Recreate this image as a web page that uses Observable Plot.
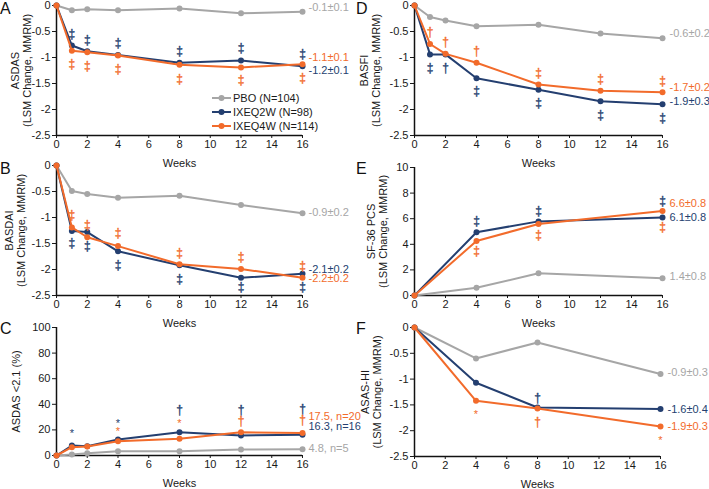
<!DOCTYPE html>
<html><head><meta charset="utf-8">
<script src="https://cdn.jsdelivr.net/npm/d3@7"></script>
<script src="https://cdn.jsdelivr.net/npm/@observablehq/plot@0.6"></script>
<style>
html,body{margin:0;padding:0;background:#fff;}
#wrap{position:relative;width:709px;height:489px;overflow:hidden;font-family:"Liberation Sans",Arial,sans-serif;color:#1a1a1a;}
.panel{position:absolute;}
.panel svg{overflow:visible;}
.letter{position:absolute;font-size:16px;line-height:16px;color:#111;}
#legend{position:absolute;left:212px;top:91px;font-size:11px;line-height:14px;}
#legend .row{display:flex;align-items:center;height:14px;white-space:nowrap;}
#legend svg{margin-right:2px;}
</style>
</head><body>
<div id="wrap"></div>
<script>
// ---------- shared ----------
const seriesNames = ["PBO", "IXEQ2W", "IXEQ4W"];
const legendLabels = ["PBO (N=104)", "IXEQ2W (N=98)", "IXEQ4W (N=114)"];
const seriesColors = ["#a6a6a6", "#243f70", "#f26b2b"];
const weekTicks = [0, 2, 4, 6, 8, 10, 12, 14, 16];
const weeksLong = [0, 1, 2, 4, 8, 12, 16];
const weeksShort = [0, 4, 8, 16];
const lsmTicks = [0, -0.5, -1, -1.5, -2, -2.5];

// ---------- A: ASDAS ----------
const asdasPBO = [0, -0.09, -0.07, -0.09, -0.06, -0.15, -0.12];
const asdasQ2W = [0, -0.77, -0.88, -0.95, -1.10, -1.06, -1.17];
const asdasQ4W = [0, -0.87, -0.90, -0.96, -1.14, -1.19, -1.13];
const asdasSigQ2W = ["", "‡", "‡", "‡", "‡", "‡", "‡"];
const asdasSigQ2WAt = [null, -0.55, -0.66, -0.73, -0.87, -0.82, -0.93];
const asdasSigQ4W = ["", "‡", "‡", "‡", "‡", "‡", "‡"];
const asdasSigQ4WAt = [null, -1.12, -1.17, -1.22, -1.41, -1.44, -1.40];
const asdasEnd = ["-0.1±0.1", "-1.2±0.1", "-1.1±0.1"];
const asdasEndAt = [-0.04, -1.25, -1.0];

// ---------- B: BASDAI ----------
const basdaiPBO = [0, -0.49, -0.55, -0.62, -0.58, -0.76, -0.92];
const basdaiQ2W = [0, -1.26, -1.28, -1.65, -1.92, -2.16, -2.08];
const basdaiQ4W = [0, -1.19, -1.38, -1.55, -1.90, -1.99, -2.16];
const basdaiSigQ2W = ["", "‡", "‡", "‡", "‡", "‡", "‡"];
const basdaiSigQ2WAt = [null, -1.49, -1.56, -1.92, -2.18, -2.34, -2.34];
const basdaiSigQ4W = ["", "‡", "‡", "‡", "‡", "‡", "‡"];
const basdaiSigQ4WAt = [null, -0.96, -1.15, -1.31, -1.68, -1.76, -1.94];
const basdaiEnd = ["-0.9±0.2", "-2.1±0.2", "-2.2±0.2"];
const basdaiEndAt = [-0.91, -2.0, -2.18];

// ---------- C: ASDAS <2.1 (%) ----------
const lowPBO = [0, 0.8, 1.8, 3.4, 3.4, 4.7, 4.8];
const lowQ2W = [0, 7.8, 7.3, 12.5, 18.2, 15.6, 16.3];
const lowQ4W = [0, 6.5, 7.0, 11.2, 13.0, 18.2, 17.5];
const lowSigQ2W = ["", "*", "", "*", "†", "†", "†"];
const lowSigQ2WAt = [null, 19.5, null, 27.3, 35.1, 35.6, 36.4];
const lowSigQ4W = ["", "", "", "*", "*", "†", "†"];
const lowSigQ4WAt = [null, null, null, 20.8, 27.3, 26.5, 27.3];
const lowEnd = ["4.8, n=5", "16.3, n=16", "17.5, n=20"];
const lowEndAt = [5.2, 22.6, 30.4];
const pctTicks = [0, 20, 40, 60, 80, 100];

// ---------- D: BASFI ----------
const basfiPBO = [0, -0.22, -0.29, -0.40, -0.37, -0.54, -0.63];
const basfiQ2W = [0, -0.94, -0.94, -1.40, -1.62, -1.84, -1.90];
const basfiQ4W = [0, -0.74, -0.93, -1.10, -1.52, -1.64, -1.67];
const basfiSigQ2W = ["", "‡", "†", "‡", "‡", "‡", "‡"];
const basfiSigQ2WAt = [null, -1.21, -1.21, -1.65, -1.87, -2.10, -2.17];
const basfiSigQ4W = ["", "†", "†", "†", "‡", "‡", "‡"];
const basfiSigQ4WAt = [null, -0.51, -0.70, -0.88, -1.30, -1.42, -1.46];
const basfiEnd = ["-0.6±0.2", "-1.9±0.3", "-1.7±0.2"];
const basfiEndAt = [-0.545, -1.84, -1.58];

// ---------- E: SF-36 PCS ----------
const pcsPBO = [0, 0.6, 1.74, 1.35];
const pcsQ2W = [0, 4.94, 5.79, 6.1];
const pcsQ4W = [0, 4.26, 5.58, 6.6];
const pcsSigQ2W = ["", "‡", "‡", "‡"];
const pcsSigQ2WAt = [null, 5.8, 6.62, 7.35];
const pcsSigQ4W = ["", "‡", "‡", "‡"];
const pcsSigQ4WAt = [null, 3.45, 4.75, 5.32];
const pcsEnd = ["1.4±0.8", "6.1±0.8", "6.6±0.8"];
const pcsEndAt = [1.48, 6.1, 7.2];
const pcsTicks = [0, 2, 4, 6, 8, 10];

// ---------- F: ASAS-HI ----------
const hiPBO = [0, -0.60, -0.29, -0.90];
const hiQ2W = [0, -1.07, -1.55, -1.58];
const hiQ4W = [0, -1.42, -1.57, -1.92];
const hiSigQ2W = ["", "", "†", ""];
const hiSigQ2WAt = [null, null, -1.36, null];
const hiSigQ4W = ["", "*", "†", "*"];
const hiSigQ4WAt = [null, -1.62, -1.83, -2.13];
const hiEnd = ["-0.9±0.3", "-1.6±0.4", "-1.9±0.3"];
const hiEndAt = [-0.87, -1.58, -1.92];

// ---------- builder ----------
const color = {domain: seriesNames, range: seriesColors};

function panel(cfg) {
  const rows = [];
  cfg.series.forEach((vals, i) => cfg.weeks.forEach((w, j) =>
    rows.push({week: w, value: vals[j], s: seriesNames[i]})));
  const sigRows = [];
  cfg.sigs.forEach(([sym, at, si]) => cfg.weeks.forEach((w, j) => {
    if (sym[j]) sigRows.push({week: w, at: at[j], t: sym[j], s: seriesNames[si]});
  }));
  const lastWeek = cfg.weeks[cfg.weeks.length - 1];
  const endRows = cfg.end.map((t, i) => ({week: lastWeek, at: cfg.endAt[i], t, s: seriesNames[i]}));
  const yMin = d3.min(cfg.yDomain);
  const marks = [
    Plot.axisX({ticks: weekTicks, tickSize: 3, tickPadding: 2, label: null, tickFormat: d => String(d), fontSize: 11}),
    Plot.axisY({ticks: cfg.yTicks, tickSize: 4, tickPadding: 2, label: null, tickFormat: d => String(d), fontSize: 11}),
    Plot.ruleX([0], {stroke: "#111", strokeWidth: 1.5}),
    Plot.ruleY([yMin], {stroke: "#111", strokeWidth: 1.5}),
  ];
  seriesNames.forEach(name => {
    const r = rows.filter(d => d.s === name);
    marks.push(Plot.line(r, {x: "week", y: "value", stroke: "s", strokeWidth: 2}));
    marks.push(Plot.dot(r, {x: "week", y: "value", fill: "s", r: 3}));
  });
  marks.push(
    Plot.text(sigRows.filter(d => d.t !== "*"), {x: "week", y: "at", text: "t", fill: "s", stroke: "s", strokeWidth: 0.35, fontSize: 12, lineAnchor: "middle"}),
    Plot.text(sigRows.filter(d => d.t === "*"), {x: "week", y: "at", text: "t", fill: "s", fontSize: 11, lineAnchor: "middle", dy: 3}),
    Plot.text(endRows, {x: "week", y: "at", text: "t", fill: "s", fontSize: 11, textAnchor: "start", dx: cfg.endDx, lineAnchor: "middle"}),
    Plot.text([cfg.yLabel], {frameAnchor: "left", textAnchor: "middle", rotate: -90, dx: cfg.labelDx, fontSize: 11, lineAnchor: "middle", lineHeight: 1.05, fill: "#1a1a1a"}),
    Plot.text(["Weeks"], {frameAnchor: "bottom", textAnchor: "middle", dy: cfg.weeksDy, fontSize: 11, lineAnchor: "middle", fill: "#1a1a1a"})
  );
  const svg = Plot.plot({
    width: cfg.w, height: cfg.h,
    marginLeft: cfg.m[0], marginRight: cfg.m[1], marginTop: cfg.m[2], marginBottom: cfg.m[3],
    x: {domain: [0, 16]},
    y: {domain: cfg.yDomain},
    color,
    style: {background: "transparent", fontFamily: "Liberation Sans, Arial, sans-serif", fontSize: "11px", color: "#1a1a1a", overflow: "visible"},
    marks
  });
  const div = document.createElement("div");
  div.className = "panel";
  div.style.left = cfg.left + "px";
  div.style.top = cfg.top + "px";
  div.appendChild(svg);
  document.getElementById("wrap").appendChild(div);
  const letter = document.createElement("div");
  letter.className = "letter";
  letter.textContent = cfg.letter;
  letter.style.left = cfg.letterPos[0] + "px";
  letter.style.top = cfg.letterPos[1] + "px";
  document.getElementById("wrap").appendChild(letter);
}

panel({letter: "A", letterPos: [0, 1], left: 0, top: 0, w: 354, h: 170, m: [56, 52, 5, 35],
  weeks: weeksLong, series: [asdasPBO, asdasQ2W, asdasQ4W],
  sigs: [[asdasSigQ2W, asdasSigQ2WAt, 1], [asdasSigQ4W, asdasSigQ4WAt, 2]],
  end: asdasEnd, endAt: asdasEndAt, endDx: 6,
  yDomain: [-2.5, 0], yTicks: lsmTicks, yLabel: "ASDAS\n(LSM Change, MMRM)", labelDx: -35, weeksDy: 28});

panel({letter: "B", letterPos: [0, 161], left: 0, top: 160, w: 354, h: 170, m: [56, 52, 5, 35],
  weeks: weeksLong, series: [basdaiPBO, basdaiQ2W, basdaiQ4W],
  sigs: [[basdaiSigQ2W, basdaiSigQ2WAt, 1], [basdaiSigQ4W, basdaiSigQ4WAt, 2]],
  end: basdaiEnd, endAt: basdaiEndAt, endDx: 6,
  yDomain: [-2.5, 0], yTicks: lsmTicks, yLabel: "BASDAI\n(LSM Change, MMRM)", labelDx: -41, weeksDy: 28});

panel({letter: "C", letterPos: [0, 321], left: 0, top: 320, w: 354, h: 169, m: [56, 52, 7, 34],
  weeks: weeksLong, series: [lowPBO, lowQ2W, lowQ4W],
  sigs: [[lowSigQ2W, lowSigQ2WAt, 1], [lowSigQ4W, lowSigQ4WAt, 2]],
  end: lowEnd, endAt: lowEndAt, endDx: 6,
  yDomain: [0, 100], yTicks: pctTicks, yLabel: "ASDAS <2.1 (%)", labelDx: -40, weeksDy: 28});

panel({letter: "D", letterPos: [356, 1], left: 354, top: 0, w: 355, h: 170, m: [60, 47, 5, 35],
  weeks: weeksLong, series: [basfiPBO, basfiQ2W, basfiQ4W],
  sigs: [[basfiSigQ2W, basfiSigQ2WAt, 1], [basfiSigQ4W, basfiSigQ4WAt, 2]],
  end: basfiEnd, endAt: basfiEndAt, endDx: 7,
  yDomain: [-2.5, 0], yTicks: lsmTicks, yLabel: "BASFI\n(LSM Change, MMRM)", labelDx: -44, weeksDy: 28});

panel({letter: "E", letterPos: [356, 161], left: 354, top: 160, w: 355, h: 170, m: [60, 47, 7, 35],
  weeks: weeksShort, series: [pcsPBO, pcsQ2W, pcsQ4W],
  sigs: [[pcsSigQ2W, pcsSigQ2WAt, 1], [pcsSigQ4W, pcsSigQ4WAt, 2]],
  end: pcsEnd, endAt: pcsEndAt, endDx: 7,
  yDomain: [0, 10], yTicks: pcsTicks, yLabel: "SF-36 PCS\n(LSM Change, MMRM)", labelDx: -37, weeksDy: 28});

panel({letter: "F", letterPos: [356, 321], left: 354, top: 320, w: 355, h: 169, m: [60, 49, 7, 33],
  weeks: weeksShort, series: [hiPBO, hiQ2W, hiQ4W],
  sigs: [[hiSigQ2W, hiSigQ2WAt, 1], [hiSigQ4W, hiSigQ4WAt, 2]],
  end: hiEnd, endAt: hiEndAt, endDx: 7,
  yDomain: [-2.5, 0], yTicks: lsmTicks, yLabel: "ASAS-HI\n(LSM Change, MMRM)", labelDx: -43, weeksDy: 28});

// legend (panel A)
const legend = document.createElement("div");
legend.id = "legend";
legendLabels.forEach((lab, i) => {
  const row = document.createElement("div");
  row.className = "row";
  row.innerHTML = `<svg width="19" height="8"><line x1="0" x2="19" y1="4" y2="4" stroke="${seriesColors[i]}" stroke-width="2"/><circle cx="9.5" cy="4" r="3" fill="${seriesColors[i]}"/></svg><span>${lab}</span>`;
  legend.appendChild(row);
});
document.getElementById("wrap").appendChild(legend);
</script>
</body></html>
